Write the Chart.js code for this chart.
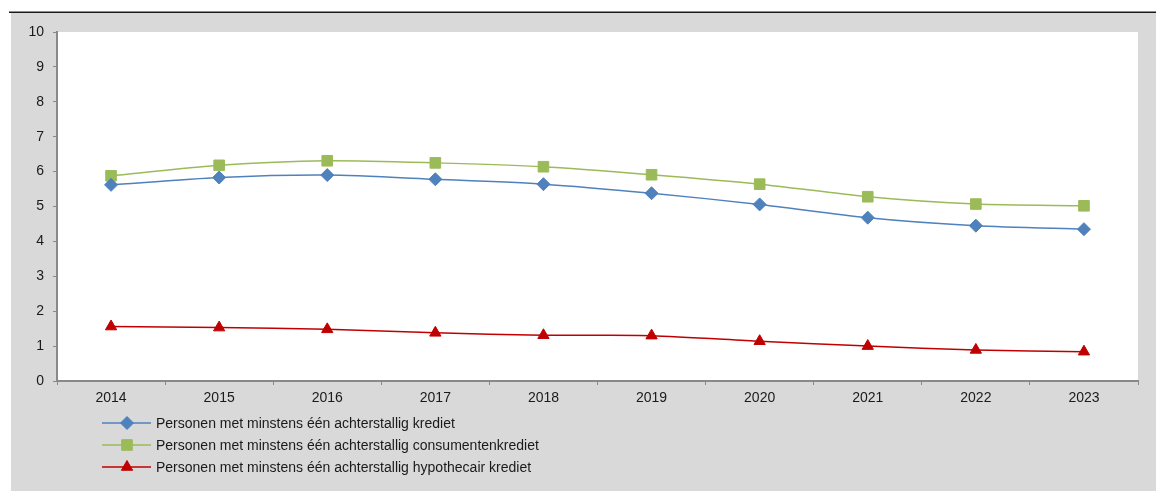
<!DOCTYPE html>
<html>
<head>
<meta charset="utf-8">
<script src="https://cdn.jsdelivr.net/npm/chart.js@4/dist/chart.umd.min.js"></script>
<style>
  html, body { margin: 0; padding: 0; background: #ffffff; }
  #wrap { width: 1156px; height: 491px; }
</style>
</head>
<body>
<div id="wrap"><canvas id="achterstandChart" width="1156" height="491"></canvas></div>
<script>
const years = ["2014", "2015", "2016", "2017", "2018", "2019", "2020", "2021", "2022", "2023"];
const krediet = [5.62, 5.83, 5.90, 5.78, 5.64, 5.38, 5.06, 4.68, 4.45, 4.35];
const consumentenkrediet = [5.88, 6.18, 6.31, 6.25, 6.14, 5.91, 5.64, 5.28, 5.07, 5.02];
const hypothecairKrediet = [1.56, 1.53, 1.48, 1.38, 1.31, 1.30, 1.14, 1.00, 0.89, 0.84];
const yTicks = [0, 1, 2, 3, 4, 5, 6, 7, 8, 9, 10];

const FONT = "'Liberation Sans', Arial, sans-serif";
const AXIS_GREY = "#898989";

// grey frame, black rule on top and white plot area
const frame = {
    id: "frame",
    beforeDraw(chart) {
        const { ctx, chartArea: a } = chart;
        ctx.save();
        ctx.fillStyle = "#ffffff";
        ctx.fillRect(0, 0, chart.width, chart.height);
        ctx.fillStyle = "#d9d9d9";
        ctx.fillRect(11, 13, chart.width - 11, chart.height - 13);
        ctx.fillStyle = "#1a1a1a";
        ctx.fillRect(9, 11.5, chart.width - 9, 1.5);
        ctx.fillStyle = "#ffffff";
        ctx.fillRect(a.left, a.top, a.right - a.left, a.bottom - a.top);
        ctx.restore();
    },
};

// legend: line with marker in the middle, one row per series
const lineLegend = {
    id: "lineLegend",
    afterDraw(chart) {
        const { ctx } = chart;
        ctx.save();
        ctx.font = "14px " + FONT;
        ctx.textBaseline = "middle";
        chart.data.datasets.forEach((ds, i) => {
            const y = 423 + i * 22;
            ctx.strokeStyle = ds.borderColor;
            ctx.lineWidth = 1.5;
            ctx.beginPath();
            ctx.moveTo(102, y);
            ctx.lineTo(151, y);
            ctx.stroke();
            ctx.fillStyle = ds.backgroundColor;
            ctx.strokeStyle = ds.backgroundColor;
            ctx.lineWidth = 1;
            Chart.helpers.drawPoint(ctx, {
                pointStyle: ds.pointStyle,
                radius: ds.pointRadius,
                rotation: 0,
                borderWidth: 1,
            }, 127, y);
            ctx.fillStyle = "#1a1a1a";
            ctx.fillText(ds.label, 156, y + 1);
        });
        ctx.restore();
    },
};

const series = (label, data, color, style, radius) => ({
    label: label,
    data: data,
    borderColor: color,
    backgroundColor: color,
    borderWidth: 1.5,
    pointStyle: style,
    pointRadius: radius,
    pointHoverRadius: radius,
    pointBorderWidth: 1,
    tension: 0.25,
});

new Chart(document.getElementById("achterstandChart"), {
    type: "line",
    data: {
        labels: years,
        datasets: [
            series("Personen met minstens één achterstallig krediet", krediet, "#4f81bd", "rectRot", 6.5),
            series("Personen met minstens één achterstallig consumentenkrediet", consumentenkrediet, "#9bbb59", "rect", 7.5),
            series("Personen met minstens één achterstallig hypothecair krediet", hypothecairKrediet, "#c00000", "triangle", 6.5),
        ],
    },
    options: {
        responsive: false,
        animation: false,
        layout: { padding: { left: 11, top: 32, right: 18, bottom: 0 } },
        plugins: {
            legend: { display: false },
            tooltip: { enabled: false },
        },
        scales: {
            x: {
                offset: true,
                afterFit: (s) => { s.height = 110; },
                grid: {
                    offset: true,
                    drawOnChartArea: false,
                    drawTicks: true,
                    tickLength: 4,
                    color: AXIS_GREY,
                    lineWidth: 1,
                },
                border: { color: AXIS_GREY, width: 2 },
                ticks: {
                    color: "#1a1a1a",
                    font: { family: FONT, size: 14 },
                    padding: 5,
                    maxRotation: 0,
                },
            },
            y: {
                min: 0,
                max: 10,
                afterFit: (s) => { s.width = 46; },
                afterBuildTicks: (s) => { s.ticks = yTicks.map((v) => ({ value: v })); },
                grid: {
                    drawOnChartArea: false,
                    drawTicks: true,
                    tickLength: 4,
                    color: AXIS_GREY,
                    lineWidth: 1,
                },
                border: { color: AXIS_GREY, width: 2 },
                ticks: {
                    color: "#1a1a1a",
                    font: { family: FONT, size: 14 },
                    padding: 9,
                },
            },
        },
    },
    plugins: [frame, lineLegend],
});
</script>
</body>
</html>
